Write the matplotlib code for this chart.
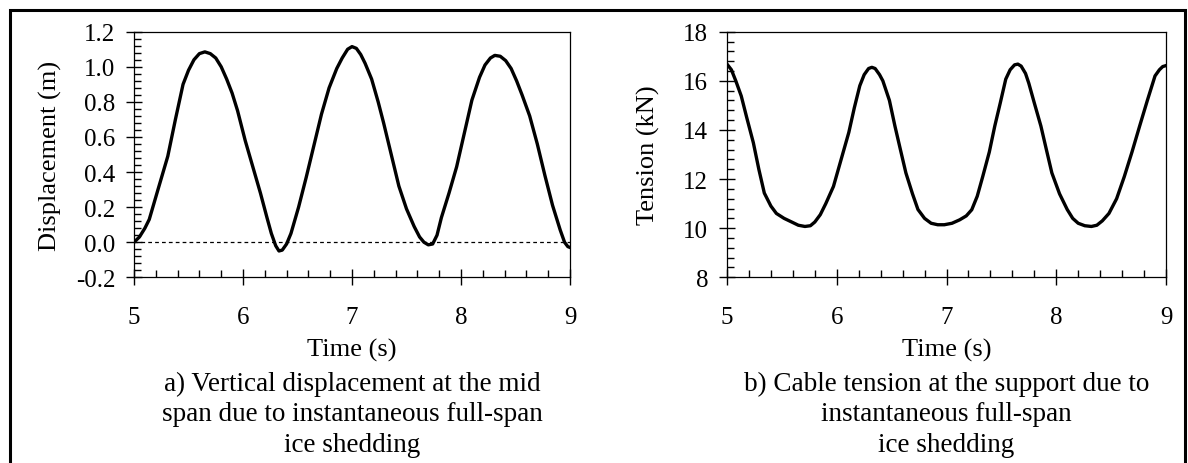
import matplotlib
matplotlib.use('Agg')
import matplotlib.pyplot as plt
from matplotlib.ticker import MultipleLocator, FormatStrFormatter
from matplotlib.patches import Rectangle

plt.rcParams['font.family'] = ['Liberation Serif', 'DejaVu Serif']

# a) mid-span vertical displacement
t_disp = [5.0, 5.05, 5.10, 5.14, 5.22, 5.31, 5.38, 5.45, 5.50, 5.55, 5.60, 5.65,
          5.70, 5.75, 5.80, 5.85, 5.90, 5.95, 6.02, 6.09, 6.16, 6.22, 6.26, 6.30,
          6.33, 6.36, 6.40, 6.44, 6.51, 6.58, 6.65, 6.72, 6.79, 6.86, 6.91, 6.96,
          7.0, 7.04, 7.08, 7.12, 7.18, 7.24, 7.29, 7.36, 7.43, 7.50, 7.57, 7.62,
          7.66, 7.70, 7.74, 7.78, 7.82, 7.89, 7.96, 8.03, 8.10, 8.17, 8.22, 8.27,
          8.31, 8.36, 8.41, 8.46, 8.51, 8.56, 8.63, 8.70, 8.77, 8.84, 8.91, 8.95,
          8.98, 9.0]
disp = [0.0, 0.03, 0.08, 0.13, 0.30, 0.49, 0.70, 0.90, 0.98, 1.04, 1.075, 1.085,
        1.075, 1.05, 1.00, 0.93, 0.85, 0.75, 0.58, 0.43, 0.28, 0.14, 0.05, -0.02,
        -0.05, -0.045, -0.01, 0.05, 0.20, 0.37, 0.55, 0.73, 0.88, 0.99, 1.05, 1.10,
        1.115, 1.105, 1.07, 1.02, 0.93, 0.80, 0.68, 0.50, 0.32, 0.19, 0.09, 0.03,
        0.0, -0.015, -0.01, 0.04, 0.14, 0.28, 0.43, 0.62, 0.81, 0.94, 1.01, 1.05,
        1.065, 1.06, 1.035, 0.99, 0.92, 0.84, 0.72, 0.56, 0.38, 0.21, 0.07, 0.0,
        -0.025, -0.03]

# b) cable tension at the support
t_ten = [5.0, 5.04, 5.08, 5.13, 5.18, 5.24, 5.29, 5.34, 5.40, 5.45, 5.52, 5.59,
         5.65, 5.71, 5.76, 5.80, 5.85, 5.90, 5.97, 6.04, 6.11, 6.16, 6.21, 6.25,
         6.29, 6.32, 6.35, 6.39, 6.42, 6.48, 6.53, 6.58, 6.63, 6.69, 6.74, 6.80,
         6.86, 6.92, 6.98, 7.05, 7.12, 7.18, 7.23, 7.28, 7.33, 7.39, 7.44, 7.49,
         7.54, 7.58, 7.62, 7.65, 7.68, 7.72, 7.75, 7.80, 7.86, 7.91, 7.96, 8.03,
         8.10, 8.15, 8.20, 8.26, 8.32, 8.37, 8.42, 8.48, 8.55, 8.62, 8.69, 8.76,
         8.83, 8.90, 8.94, 8.97, 9.0]
tension = [16.68, 16.45, 16.0, 15.38, 14.5, 13.48, 12.4, 11.43, 10.9, 10.6, 10.4, 10.25,
           10.12, 10.07, 10.1, 10.25, 10.55, 11.0, 11.7, 12.8, 13.9, 14.9, 15.8, 16.25,
           16.5, 16.55, 16.5, 16.25, 16.0, 15.2, 14.16, 13.2, 12.25, 11.4, 10.76, 10.4,
           10.2, 10.14, 10.14, 10.2, 10.34, 10.5, 10.75, 11.3, 12.1, 13.1, 14.16, 15.1,
           16.07, 16.45, 16.65, 16.68, 16.6, 16.3, 15.9, 15.1, 14.16, 13.2, 12.25, 11.4,
           10.76, 10.4, 10.2, 10.1, 10.07, 10.12, 10.3, 10.6, 11.2, 12.1, 13.1, 14.16,
           15.2, 16.2, 16.45, 16.58, 16.62]

cap_a = ['a) Vertical displacement at the mid', 'span due to instantaneous full-span',
         'ice shedding']
cap_b = ['b) Cable tension at the support due to', 'instantaneous full-span',
         'ice shedding']

W, H = 1188, 464
fig = plt.figure(figsize=(W / 100, H / 100), dpi=100)

# outer frame (bottom edge falls outside the picture)
fig.patches.append(Rectangle((10 / W, -0.05), (1185 - 10) / W, (H - 11) / H + 0.05,
                             transform=fig.transFigure, fill=False, lw=2.2,
                             edgecolor='black'))

ax1 = fig.add_axes([134 / W, 1 - 278.3 / H, (570 - 134) / W, 245.6 / H])
ax2 = fig.add_axes([727 / W, 1 - 278.3 / H, (1166 - 727) / W, 245.6 / H])

ax1.plot(t_disp, disp, color='black', lw=2.4, solid_joinstyle='round')
ax1.axhline(0, color='black', lw=0.9, ls=(0, (3, 2.5)))
ax1.set_ylim(-0.2, 1.2)
ax1.yaxis.set_major_locator(MultipleLocator(0.2))
ax1.yaxis.set_minor_locator(MultipleLocator(0.04))
ax1.yaxis.set_major_formatter(FormatStrFormatter('%.1f'))
ax1.set_ylabel('Displacement (m)', fontsize=19)
ax1.yaxis.set_label_coords((50 - 134) / 436, 0.5)

ax2.plot(t_ten, tension, color='black', lw=2.4, solid_joinstyle='round')
ax2.set_ylim(8, 18)
ax2.yaxis.set_major_locator(MultipleLocator(2))
ax2.yaxis.set_minor_locator(MultipleLocator(0.4))
ax2.set_ylabel('Tension (kN)', fontsize=19)
ax2.yaxis.set_label_coords((648 - 727) / 439, 0.5)

for ax, cap in [(ax1, cap_a), (ax2, cap_b)]:
    ax.set_xlim(5, 9)
    ax.xaxis.set_major_locator(MultipleLocator(1))
    ax.xaxis.set_minor_locator(MultipleLocator(0.2))
    ax.tick_params(which='major', direction='inout', length=11, width=1,
                   labelsize=18)
    ax.tick_params(which='minor', direction='in', length=4.7, width=1)
    ax.tick_params(axis='x', which='major', pad=15)
    ax.tick_params(axis='y', which='major', pad=8)
    for s in ax.spines.values():
        s.set_linewidth(0.9)
    ax.yaxis.label.set_va('center')
    ax.set_xlabel('Time (s)', fontsize=19, va='center')
    ax.xaxis.set_label_coords(0.5, (278.3 - 350) / 245.6)
    x_mid = (ax.get_position().x0 + ax.get_position().x1) / 2
    for line, y in zip(cap, [384, 415, 446]):
        fig.text(x_mid, 1 - y / H, line, ha='center', va='center', fontsize=19.5)

fig.savefig('out.png', dpi=100)
